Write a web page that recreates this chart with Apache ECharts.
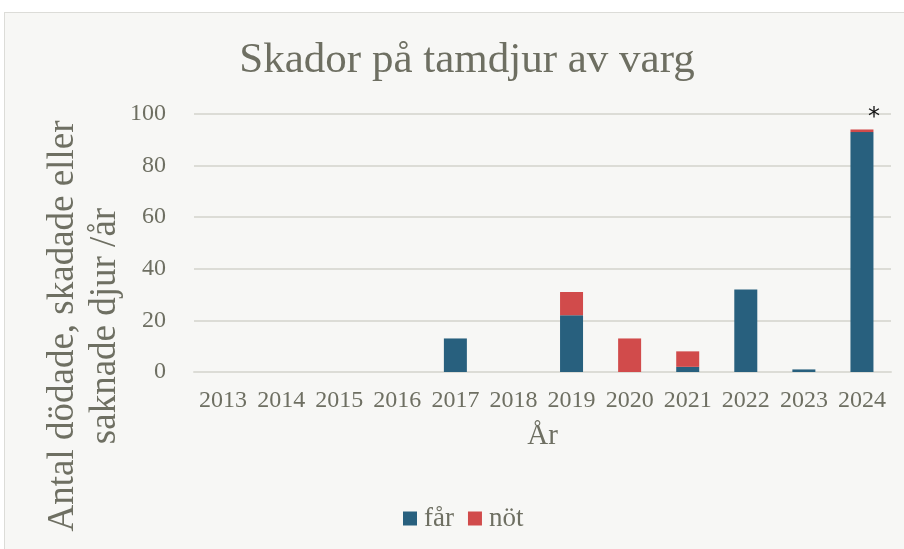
<!DOCTYPE html>
<html>
<head>
<meta charset="utf-8">
<script src="https://cdn.jsdelivr.net/npm/echarts@6/dist/echarts.min.js"></script>
<style>
html,body{margin:0;padding:0;background:#ffffff;}
#panel{position:absolute;left:4px;top:12px;width:910px;height:550px;background:#f7f7f5;border:1px solid #dcdcd8;box-sizing:border-box;}
#chart{position:absolute;left:0;top:0;width:904px;height:549px;}
</style>
</head>
<body>
<div id="panel"></div>
<div id="chart"></div>
<script>
const years = ['2013','2014','2015','2016','2017','2018','2019','2020','2021','2022','2023','2024'];
const farValues = [0, 0, 0, 0, 13, 0, 22, 0, 2, 32, 1, 93];
const notValues = [0, 0, 0, 0, 0, 0, 9, 13, 6, 0, 0, 1];
const yTicks = [0, 20, 40, 60, 80, 100];
const titleText = 'Skador på tamdjur av varg';
const yName = 'Antal dödade, skadade eller\nsaknade djur /år';
const xName = 'År';

const FONT = '"Liberation Serif", "DejaVu Serif", serif';
const TXT = '#6e6f62';

const chart = echarts.init(document.getElementById('chart'), null, {renderer: 'canvas'});
chart.setOption({
  backgroundColor: 'transparent',
  animation: false,
  title: {
    text: titleText,
    left: 462, top: 34, textAlign: 'center',
    textStyle: {fontFamily: FONT, fontSize: 43, fontWeight: 'normal', color: TXT}
  },
  legend: {
    data: ['får', 'nöt'],
    bottom: 12, left: 398,
    itemWidth: 14, itemHeight: 14, itemGap: 14,
    icon: 'rect',
    textStyle: {fontFamily: FONT, fontSize: 27, color: TXT, padding: [0,0,0,2]}
  },
  grid: {left: 194, right: 13, top: 114, bottom: 177, containLabel: false},
  xAxis: {
    type: 'category', data: years,
    name: xName, nameLocation: 'middle', nameGap: 50,
    nameTextStyle: {fontFamily: FONT, fontSize: 29, color: TXT},
    axisLine: {lineStyle: {color: '#dcdcd6', width: 2}},
    axisTick: {show: false},
    axisLabel: {fontFamily: FONT, fontSize: 24, color: TXT, margin: 17, interval: 0}
  },
  yAxis: {
    type: 'value', min: 0, max: 100, interval: 20,
    axisLine: {show: false}, axisTick: {show: false},
    splitLine: {lineStyle: {color: '#dcdcd6', width: 2}},
    axisLabel: {fontFamily: FONT, fontSize: 24, color: TXT, margin: 28,
      formatter: v => yTicks.includes(v) ? String(v) : ''}
  },
  graphic: [{
    type: 'text', x: 84, y: 326, rotation: Math.PI / 2,
    style: {text: yName, fontFamily: FONT, fontSize: 37, fill: TXT,
      align: 'center', verticalAlign: 'middle', lineHeight: 42}
  }],
  series: [
    {name: 'får', type: 'bar', stack: 'a', data: farValues, barWidth: 23,
      itemStyle: {color: '#28607e'}},
    {name: 'nöt', type: 'bar', stack: 'a', barWidth: 23,
      data: notValues.map((v, i) => i === years.length - 1 ? {value: v, label: {show: true, formatter: '*', position: 'top', offset: [12, 5], fontFamily: 'DejaVu Sans', fontSize: 24, color: '#111'}} : v),
      itemStyle: {color: '#d14b4b'}}
  ]
});
</script>
</body>
</html>
